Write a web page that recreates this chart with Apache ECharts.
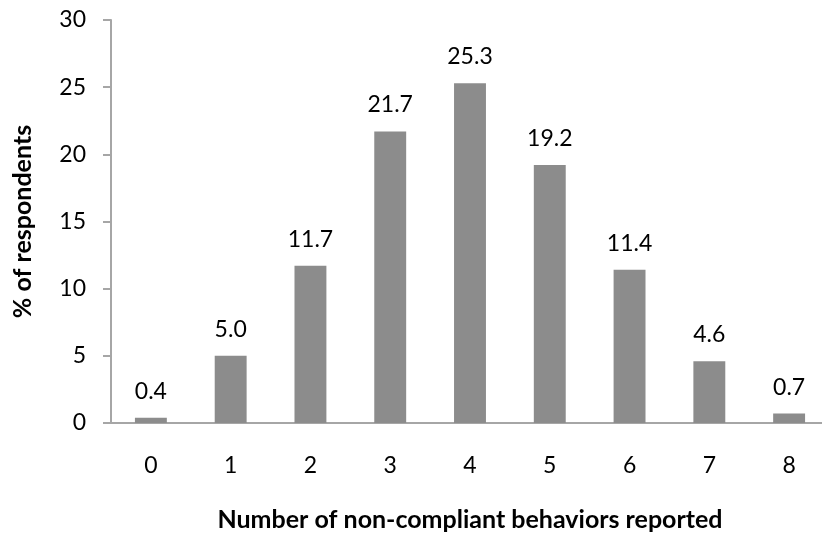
<!DOCTYPE html>
<html>
<head>
<meta charset="utf-8">
<script src="https://cdn.jsdelivr.net/npm/echarts@6/dist/echarts.min.js"></script>
<style>
  html, body { margin: 0; padding: 0; background: #fff; }
  #chart { width: 822px; height: 535px; }
</style>
</head>
<body>
<div id="chart"></div>
<script>
// Distribution of respondents by number of non-compliant behaviors reported
const categories = ['0', '1', '2', '3', '4', '5', '6', '7', '8'];
const percentValues = [0.4, 5.0, 11.7, 21.7, 25.3, 19.2, 11.4, 4.6, 0.7];
const yTicks = [0, 5, 10, 15, 20, 25, 30];

const fontFamily = 'Lato, "Open Sans", "Noto Sans", sans-serif';
const axisGray = '#a6a6a6';

const chart = echarts.init(document.getElementById('chart'), null, { renderer: 'canvas' });

chart.setOption({
  animation: false,
  backgroundColor: '#ffffff',
  grid: { left: 111, right: -7, top: 20, bottom: 112, containLabel: false, outerBoundsMode: 'none' },
  xAxis: {
    type: 'category',
    data: categories,
    name: 'Number of non-compliant behaviors reported',
    nameLocation: 'middle',
    nameGap: 84,
    nameTextStyle: { fontFamily, fontSize: 25, fontWeight: 'bold', color: '#000' },
    axisLine: { lineStyle: { color: axisGray, width: 2 } },
    axisTick: { show: false },
    axisLabel: { fontFamily, fontSize: 23, color: '#000', margin: 31 }
  },
  yAxis: {
    type: 'value',
    min: yTicks[0],
    max: yTicks[yTicks.length - 1],
    interval: 5,
    name: '% of respondents',
    nameLocation: 'middle',
    nameGap: 76,
    nameRotate: 90,
    nameTextStyle: { fontFamily, fontSize: 25, fontWeight: 'bold', color: '#000' },
    axisLine: { show: true, lineStyle: { color: axisGray, width: 2 } },
    axisTick: { show: true, length: 8, lineStyle: { color: axisGray, width: 2 } },
    splitLine: { show: false },
    axisLabel: { fontFamily, fontSize: 23, color: '#000', margin: 25 }
  },
  series: [{
    type: 'bar',
    data: percentValues,
    barWidth: '40%',
    itemStyle: { color: '#8c8c8c' },
    label: {
      show: true,
      position: 'top',
      distance: 15,
      fontFamily,
      fontSize: 23,
      color: '#000',
      formatter: p => p.value.toFixed(1)
    }
  }]
});
</script>
</body>
</html>
